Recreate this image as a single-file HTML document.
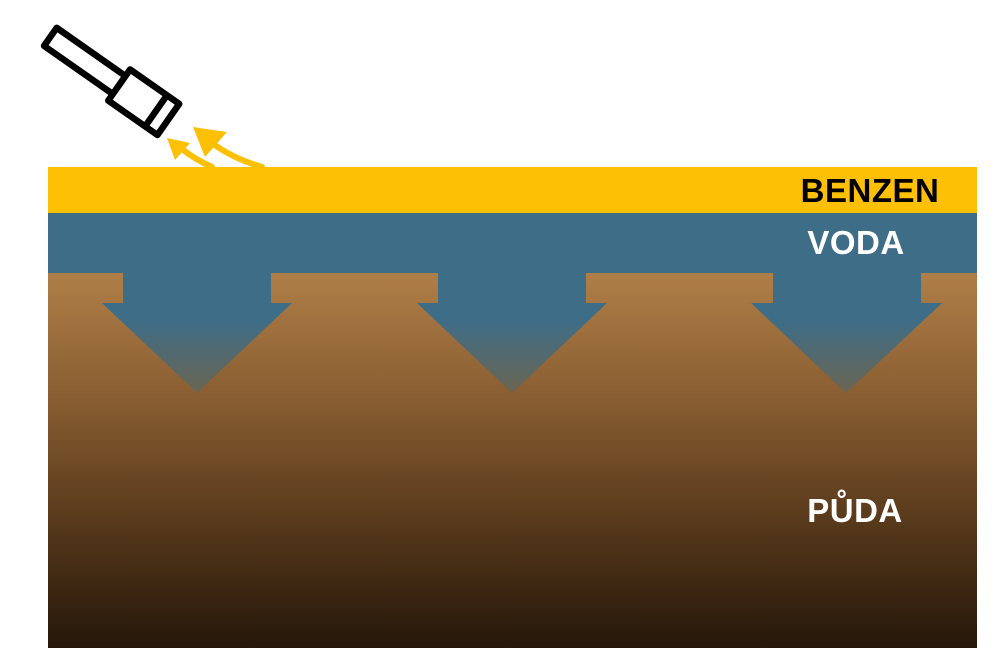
<!DOCTYPE html>
<html><head><meta charset="utf-8"><style>
html,body{margin:0;padding:0;background:#fff;}
svg{display:block;}
</style></head><body>
<svg width="1001" height="666" viewBox="0 0 1001 666" xmlns="http://www.w3.org/2000/svg">
<defs>
<linearGradient id="soil" x1="0" y1="272" x2="0" y2="648" gradientUnits="userSpaceOnUse">
<stop offset="0" stop-color="#b07f48"/>
<stop offset="0.35" stop-color="#875c30"/>
<stop offset="0.7" stop-color="#523519"/>
<stop offset="1" stop-color="#25170a"/>
</linearGradient>
<linearGradient id="water" x1="0" y1="272" x2="0" y2="393" gradientUnits="userSpaceOnUse">
<stop offset="0" stop-color="#3e6d87"/>
<stop offset="0.4" stop-color="#3e6d87"/>
<stop offset="1" stop-color="#6a6552"/>
</linearGradient>
</defs>
<rect x="48" y="272" width="929" height="376" fill="url(#soil)"/>
<rect x="48" y="212" width="929" height="61" fill="#3e6d87"/>
<rect x="48" y="167" width="929" height="46" fill="#fec004"/>
<polygon points="123,271 271,271 271,303 292,303 197,393 102,303 123,303" fill="url(#water)"/>
<polygon points="438,271 586,271 586,303 607,303 512,393 417,303 438,303" fill="url(#water)"/>
<polygon points="773,271 921,271 921,303 942,303 846,393 751,303 773,303" fill="url(#water)"/>
<g transform="translate(52,38) rotate(35)" fill="#fff" stroke="#000" stroke-width="6.5" stroke-linejoin="round">
<rect x="-2" y="-11" width="84" height="22"/>
<rect x="82" y="-19" width="60" height="38"/>
<line x1="127" y1="-19" x2="127" y2="19"/>
</g>
<g fill="none" stroke="#fec004" stroke-width="6" stroke-linecap="round">
<path d="M262,167 C245,162 228,155 212,143"/>
<path d="M212,167 C203,163 192,157 182,149"/>
</g>
<polygon points="193,127 227,132 205,157" fill="#fec004"/>
<polygon points="167,138 190,143 175,160" fill="#fec004"/>
<g font-family="Liberation Sans, sans-serif" font-weight="bold" font-size="33" text-anchor="middle" letter-spacing="0.5">
<text x="870" y="202" fill="#000">BENZEN</text>
<text x="856" y="254" fill="#fff">VODA</text>
<text x="855" y="522" fill="#fff">PŮDA</text>
</g>
</svg>
</body></html>
